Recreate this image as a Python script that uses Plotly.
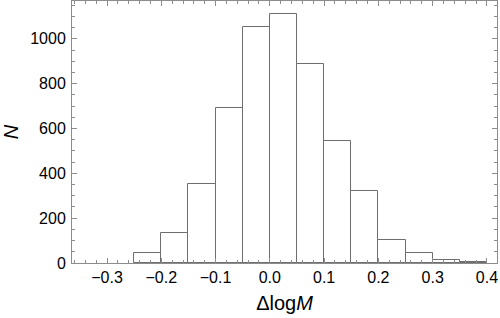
import plotly.graph_objects as go

bin_edges = [-0.25, -0.2, -0.15, -0.1, -0.05, 0.0, 0.05, 0.1, 0.15, 0.2, 0.25, 0.3, 0.35, 0.4]
counts = [43, 132, 352, 692, 1052, 1110, 890, 545, 323, 101, 43, 13, 3]

x_ticks = [-0.3, -0.2, -0.1, 0.0, 0.1, 0.2, 0.3, 0.4]
x_ticklabels = ["\u22120.3", "\u22120.2", "\u22120.1", "0.0", "0.1", "0.2", "0.3", "0.4"]
y_ticks = [0, 200, 400, 600, 800, 1000]

centers = [(a + b) / 2 for a, b in zip(bin_edges[:-1], bin_edges[1:])]
widths = [b - a for a, b in zip(bin_edges[:-1], bin_edges[1:])]

fig = go.Figure(go.Bar(
    x=centers, y=counts, width=widths,
    marker=dict(color="white", line=dict(color="#6e6e6e", width=1)),
))

frame = "#8c8c8c"
font = dict(family="Liberation Sans, Arial, sans-serif", size=16, color="black")

fig.update_layout(
    width=500, height=318,
    margin=dict(l=72, r=3, t=1, b=55),
    plot_bgcolor="white", paper_bgcolor="white",
    showlegend=False, font=font,
    bargap=0,
)
fig.update_xaxes(
    automargin=False,
    range=[-0.3645, 0.4185],
    tickvals=x_ticks, ticktext=x_ticklabels,
    ticks="inside", ticklen=5, tickcolor=frame, tickwidth=1,
    minor=dict(ticks="inside", ticklen=3, dtick=0.02, tick0=0, tickcolor=frame),
    showline=True, linecolor=frame, linewidth=1, mirror="allticks",
    showgrid=False, zeroline=False,
    title=dict(text="\u0394log<i>M</i>", font=dict(size=20), standoff=10),
    ticklabelstandoff=0,
)
fig.update_yaxes(
    automargin=False,
    range=[0, 1169],
    tickvals=y_ticks,
    ticks="inside", ticklen=5, tickcolor=frame, tickwidth=1,
    minor=dict(ticks="inside", ticklen=3, dtick=50, tick0=0, tickcolor=frame),
    showline=True, linecolor=frame, linewidth=1, mirror="allticks",
    showgrid=False, zeroline=False,
    title=dict(text="<i>N</i>", font=dict(size=20), standoff=10),
    ticklabelstandoff=2,
)

fig.write_html(
    "out.html",
    config={"displayModeBar": False},
    post_script="document.body.style.margin='0';document.body.style.overflow='hidden';",
)
